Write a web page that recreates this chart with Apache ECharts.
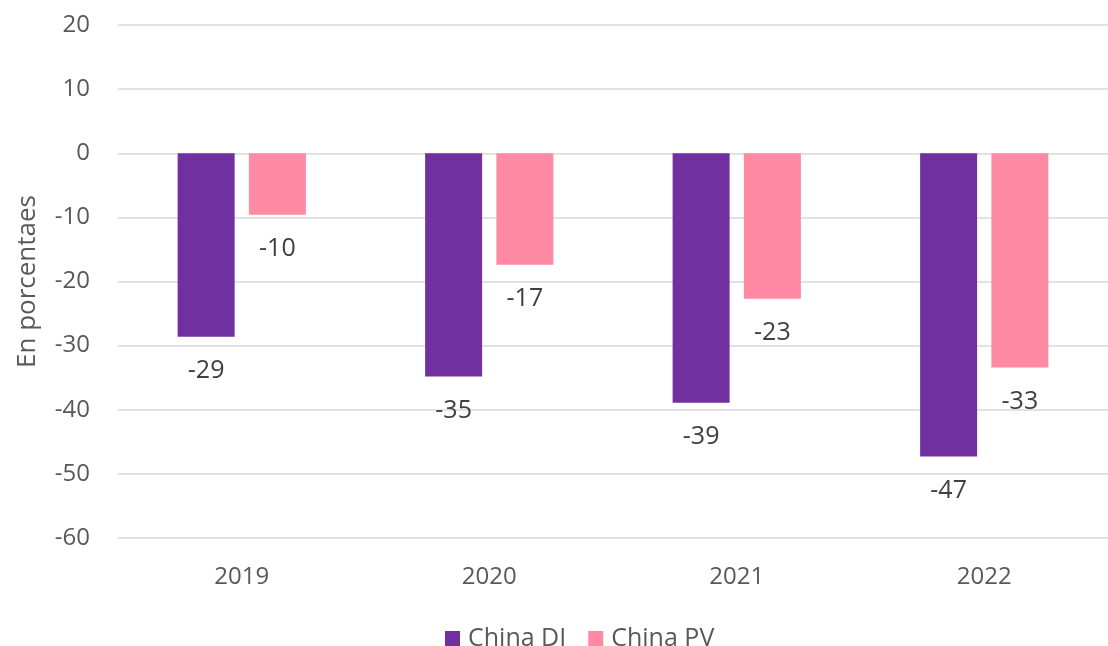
<!DOCTYPE html>
<html>
<head>
<meta charset="utf-8">
<script src="https://cdn.jsdelivr.net/npm/echarts@6/dist/echarts.min.js"></script>
<style>
  html, body { margin: 0; padding: 0; background: #fff; }
  #chart { width: 1108px; height: 646px; }
</style>
</head>
<body>
<div id="chart"></div>
<script>
var years = ['2019', '2020', '2021', '2022'];
var chinaDI = [-28.6, -34.8, -38.9, -47.3];
var chinaPV = [-9.6, -17.4, -22.7, -33.4];

var font = '"Open Sans", sans-serif';
var myChart = echarts.init(document.getElementById('chart'));

// excel-style rounding (away from zero)
function roundLabel(p) {
    var v = p.value;
    return (v < 0 ? -1 : 1) * Math.round(Math.abs(v));
}

var label = {
    show: true,
    position: 'bottom',
    distance: 22,
    fontSize: 25,
    fontFamily: font,
    color: '#404040',
    formatter: roundLabel
};

var option = {
    animation: false,
    grid: { left: 118, right: 0, top: 25, bottom: 108, outerBoundsMode: 'none' },
    legend: {
        data: ['China DI', 'China PV'],
        top: 621,
        left: 440,
        itemWidth: 15,
        itemHeight: 15,
        itemGap: 22,
        icon: 'rect',
        textStyle: { fontSize: 25, fontFamily: font, color: '#595959', padding: [0, 0, 0, 3] }
    },
    xAxis: {
        type: 'category',
        data: years,
        axisLine: { show: false },
        axisTick: { show: false },
        axisLabel: { fontSize: 24, fontFamily: font, color: '#595959', margin: 27 }
    },
    yAxis: {
        type: 'value',
        min: -60,
        max: 20,
        interval: 10,
        name: 'En porcentaes',
        nameLocation: 'middle',
        nameGap: 77,
        nameMoveOverlap: false,
        nameTextStyle: { fontSize: 26, fontFamily: font, color: '#595959' },
        axisLine: { show: false },
        axisTick: { show: false },
        axisLabel: { fontSize: 24, fontFamily: font, color: '#595959', margin: 28 },
        splitLine: { lineStyle: { color: '#d9d9d9', width: 1.5 } }
    },
    series: [
        {
            name: 'China DI',
            type: 'bar',
            data: chinaDI,
            barWidth: 57,
            barGap: '25%',
            itemStyle: { color: '#7030A0' },
            label: label
        },
        {
            name: 'China PV',
            type: 'bar',
            data: chinaPV,
            barWidth: 57,
            barGap: '25%',
            itemStyle: { color: '#FF8AA3' },
            label: label
        }
    ]
};
myChart.setOption(option);
</script>
</body>
</html>
